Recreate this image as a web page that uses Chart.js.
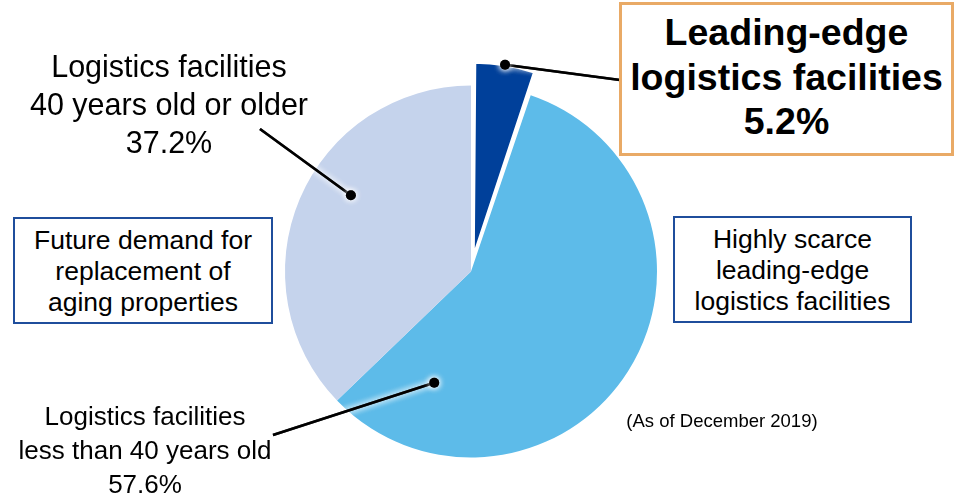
<!DOCTYPE html>
<html>
<head>
<meta charset="utf-8">
<script src="https://cdn.jsdelivr.net/npm/chart.js@4/dist/chart.umd.min.js"></script>
<style>
  html, body { margin: 0; padding: 0; background: #fff; }
  #wrap { position: relative; width: 955px; height: 496px; overflow: hidden; font-family: "Liberation Sans", Arial, sans-serif; color: #000; }
  canvas { position: absolute; left: 0; top: 0; }
  .t { position: absolute; text-align: center; white-space: nowrap; }
  .box { position: absolute; box-sizing: border-box; text-align: center; white-space: nowrap; background: #fff; }
</style>
</head>
<body>
<div id="wrap">
  <canvas id="c" width="955" height="496"></canvas>
  <div class="t" style="left:19px; top:47px; width:300px; font-size:30.5px; line-height:38px;">Logistics facilities<br>40 years old or older<br>37.2%</div>
  <div class="t" style="left:-5px; top:399px; width:300px; font-size:26px; line-height:34px;">Logistics facilities<br>less than 40 years old<br>57.6%</div>
  <div class="box" style="left:619px; top:2px; width:335px; height:154px; border:3px solid #E9AA66; padding-top:5px; font-size:37.5px; font-weight:bold; line-height:44.5px;">Leading-edge<br>logistics facilities<br>5.2%</div>
  <div class="box" style="left:13px; top:217px; width:260px; height:107px; border:2px solid #1F4E9C; padding-top:6px; font-size:26.5px; line-height:31px;">Future demand for<br>replacement of<br>aging properties</div>
  <div class="box" style="left:673px; top:216px; width:239px; height:107px; border:2px solid #1F4E9C; padding-top:6px; font-size:26.5px; line-height:31px;">Highly scarce<br>leading-edge<br>logistics facilities</div>
  <div class="t" style="left:622px; top:409px; width:200px; font-size:18.5px; line-height:24px;">(As of December 2019)</div>
</div>
<script>
const categories = ["Leading-edge logistics facilities", "Logistics facilities less than 40 years old", "Logistics facilities 40 years old or older"];
const shares = [5.2, 57.6, 37.2];
const sliceColors = ["#00409A", "#5DBBE9", "#C5D3EC"];

// callout anchor: slice index, position along slice angle (0..1), radius fraction, label end point
const callouts = [
  { i: 0, af: 0.5, rf: 1.0, tx: 620, ty: 80 },
  { i: 2, af: 0.57, rf: 0.765, tx: 260, ty: 129 },
  { i: 1, af: 0.866, rf: 0.63, tx: 273, ty: 435 }
];

const calloutPlugin = {
  id: 'callouts',
  afterDatasetsDraw(chart) {
    const ctx = chart.ctx;
    const arcs = chart.getDatasetMeta(0).data;
    const pts = callouts.map(c => {
      const a = arcs[c.i];
      const off = (a.options.offset || 0) / 4;
      const mid = (a.startAngle + a.endAngle) / 2;
      const fix = 1 - Math.sin(Math.min(Math.PI, a.circumference || 0));
      const cx = a.x + Math.cos(mid) * off;
      const cy = a.y + Math.sin(mid) * off;
      const R = a.outerRadius + off * fix;
      const ang = a.startAngle + c.af * (a.endAngle - a.startAngle);
      return { x: cx + Math.cos(ang) * R * c.rf, y: cy + Math.sin(ang) * R * c.rf, tx: c.tx, ty: c.ty };
    });
    ctx.save();
    for (let pass = 0; pass < 2; pass++) {
      ctx.shadowColor = 'rgba(255,255,255,1)';
      ctx.shadowBlur = 6;
      ctx.strokeStyle = '#000';
      ctx.fillStyle = '#000';
      ctx.lineWidth = 2.5;
      pts.forEach(p => {
        ctx.beginPath();
        ctx.moveTo(p.x, p.y);
        ctx.lineTo(p.tx, p.ty);
        ctx.stroke();
        ctx.beginPath();
        ctx.arc(p.x, p.y, 5, 0, Math.PI * 2);
        ctx.fill();
      });
    }
    ctx.restore();
  }
};

new Chart(document.getElementById('c'), {
  type: 'pie',
  data: {
    labels: categories,
    datasets: [{
      data: shares,
      backgroundColor: sliceColors,
      borderColor: '#ffffff',
      borderWidth: [3, 0, 0],
      offset: [56, 0, 0]
    }]
  },
  options: {
    responsive: false,
    animation: false,
    devicePixelRatio: 1,
    radius: 186,
    layout: { padding: { left: 0, right: 13, top: 47, bottom: 0 } },
    plugins: { legend: { display: false }, tooltip: { enabled: false } }
  },
  plugins: [calloutPlugin]
});
</script>
</body>
</html>
